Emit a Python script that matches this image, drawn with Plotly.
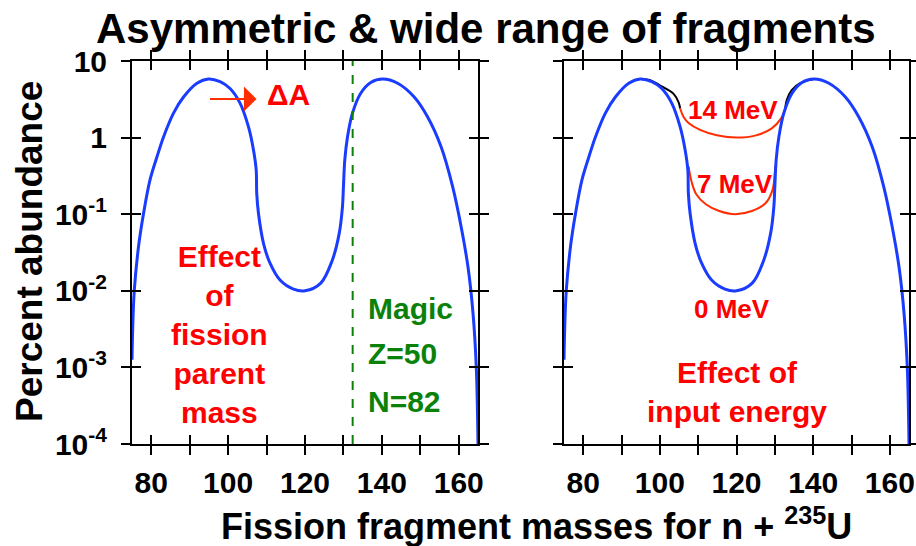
import plotly.graph_objects as go

# ---------------- data ----------------
mass_A = [75.0, 75.25, 75.6, 76.7, 78.0, 79.7, 81.5, 83.2, 85.8, 88.4, 91.9, 94.9,
          97.9, 100.5, 103.1, 105.3, 106.6, 107.3, 107.45, 107.9, 109.2, 110.9, 113.5, 117.0, 120.0,
          124.1, 127.1, 128.9, 129.75, 130.0, 130.35, 131.05, 132.35, 134.5, 137.1, 140.2,
          144.1, 148.4, 151.9, 155.4, 158.4, 160.6, 162.4, 163.7, 164.55, 165.0]
abund_0MeV = [1.26e-3, 4.17e-3, 1.02e-2, 3.8e-2, 0.102, 0.282, 0.562, 1.02, 2.09, 3.39, 5.13, 5.82,
              5.37, 4.37, 2.82, 1.38, 0.69, 0.38, 0.186, 0.102, 0.0417, 0.0229, 0.0138, 0.0105, 0.0100,
              0.0126, 0.0251, 0.0562, 0.126, 0.229, 0.513, 1.02, 2.09, 3.80, 5.25, 5.82,
              5.13, 3.39, 1.86, 0.759, 0.229, 0.0692, 0.0204, 5.13e-3, 1.02e-3, 1.0e-4]

black_left_A = [94.9, 97.5, 100.1, 103.6, 104.9, 105.3]
black_left_y = [5.82, 5.62, 4.79, 3.72, 2.88, 2.40]
black_right_A = [132.7, 133.1, 134.4, 136.6, 140.2]
black_right_y = [2.40, 3.09, 4.17, 5.13, 5.82]

mev14_A = [105.3, 106.2, 107.5, 110.5, 114.9, 120.0, 125.1, 129.2, 131.5, 132.7]
mev14_y = [2.40, 1.86, 1.55, 1.26, 1.07, 1.00, 1.07, 1.32, 1.74, 2.40]
mev7_A = [107.5, 108.3, 109.5, 112.0, 115.5, 119.7, 124.0, 127.5, 129.3, 130.1]
mev7_y = [0.42, 0.263, 0.182, 0.135, 0.110, 0.100, 0.110, 0.138, 0.20, 0.42]

magic_A = 132.4
x_major_ticks = [80, 100, 120, 140, 160]
x_minor_ticks = [90, 110, 130, 150]
y_ticks = [1e-4, 1e-3, 1e-2, 1e-1, 1, 10]
y_ticktext = ["10<sup>-4</sup>", "10<sup>-3</sup>", "10<sup>-2</sup>", "10<sup>-1</sup>", "1", "10"]

# ---------------- styling ----------------
W, H = 916, 546
FONT = "Liberation Sans, Arial, Helvetica, sans-serif"
BLUE = "rgb(25,60,255)"
RED = "rgb(255,0,0)"
REDLINE = "rgb(255,45,0)"
GREEN = "rgb(10,130,10)"

def px_x(p):
    return p / W

def px_y(p):
    return 1 - p / H

fig = go.Figure()
SPL = dict(shape="spline", smoothing=1.0)

# left panel
fig.add_trace(go.Scatter(x=mass_A, y=abund_0MeV, mode="lines", line=dict(color=BLUE, width=3, **SPL),
                         xaxis="x", yaxis="y", showlegend=False, hoverinfo="skip"))
# right panel
fig.add_trace(go.Scatter(x=black_left_A, y=black_left_y, mode="lines", line=dict(color="black", width=2, **SPL),
                         xaxis="x2", yaxis="y2", showlegend=False))
fig.add_trace(go.Scatter(x=black_right_A, y=black_right_y, mode="lines", line=dict(color="black", width=2, **SPL),
                         xaxis="x2", yaxis="y2", showlegend=False))
fig.add_trace(go.Scatter(x=mev14_A, y=mev14_y, mode="lines", line=dict(color=REDLINE, width=2, **SPL),
                         xaxis="x2", yaxis="y2", showlegend=False))
fig.add_trace(go.Scatter(x=mev7_A, y=mev7_y, mode="lines", line=dict(color=REDLINE, width=2, **SPL),
                         xaxis="x2", yaxis="y2", showlegend=False))
fig.add_trace(go.Scatter(x=mass_A, y=abund_0MeV, mode="lines", line=dict(color=BLUE, width=3, **SPL),
                         xaxis="x2", yaxis="y2", showlegend=False, hoverinfo="skip"))
# helper (invisible) traces so the inward-tick overlay axes are drawn
for xa, ya in (("x3", "y3"), ("x4", "y4")):
    fig.add_trace(go.Scatter(x=mass_A, y=abund_0MeV, mode="lines", line=dict(color="rgba(0,0,0,0)"),
                             xaxis=xa, yaxis=ya, showlegend=False, hoverinfo="skip"))

xdom1 = [px_x(132), px_x(478)]
xdom2 = [px_x(564), px_x(909)]
ydom = [px_y(444), px_y(61)]
tickfont = dict(family=FONT, size=30, color="black", weight="bold")

common_x = dict(range=[75, 165], tickmode="array", tickvals=x_major_ticks, showgrid=False, zeroline=False,
                ticks="outside", ticklen=9, tickwidth=2, tickcolor="black", mirror="ticks", automargin=False,
                minor=dict(tickmode="array", tickvals=x_minor_ticks, ticks="outside", ticklen=9, tickwidth=2,
                           tickcolor="black", showgrid=False),
                showline=True, linewidth=2, linecolor="black", tickfont=tickfont, ticklabelstandoff=2)
common_y = dict(type="log", range=[-4, 1], tickvals=y_ticks, ticktext=y_ticktext, showgrid=False, zeroline=False,
                ticks="outside", ticklen=9, tickwidth=2, tickcolor="black", mirror="ticks", automargin=False,
                showline=True, linewidth=2, linecolor="black", tickfont=tickfont, ticklabelstandoff=8)
inner_x = dict(range=[75, 165], tickmode="array", tickvals=x_major_ticks, showticklabels=False, showgrid=False,
               zeroline=False, ticks="inside", ticklen=9, tickwidth=2, tickcolor="black", mirror="ticks",
               minor=dict(tickmode="array", tickvals=x_minor_ticks, ticks="inside", ticklen=9, tickwidth=2,
                          tickcolor="black", showgrid=False),
               showline=False, automargin=False)
inner_y = dict(type="log", range=[-4, 1], tickvals=y_ticks, showticklabels=False, showgrid=False, zeroline=False,
               ticks="inside", ticklen=9, tickwidth=2, tickcolor="black", mirror="ticks", showline=False,
               automargin=False)

fig.update_layout(
    template="none",
    width=W, height=H,
    margin=dict(l=0, r=0, t=0, b=0, pad=0, autoexpand=False),
    paper_bgcolor="white", plot_bgcolor="rgba(0,0,0,0)",
    font=dict(family=FONT, color="black"),
    showlegend=False,
    xaxis=dict(domain=xdom1, anchor="y", **common_x),
    yaxis=dict(domain=ydom, anchor="x", **common_y),
    xaxis2=dict(domain=xdom2, anchor="y2", **common_x),
    yaxis2=dict(domain=ydom, anchor="x2", **{**common_y, "showticklabels": False}),
    xaxis3=dict(domain=xdom1, anchor="y3", overlaying="x", **inner_x),
    yaxis3=dict(domain=ydom, anchor="x3", overlaying="y", **inner_y),
    xaxis4=dict(domain=xdom2, anchor="y4", overlaying="x2", **inner_x),
    yaxis4=dict(domain=ydom, anchor="x4", overlaying="y2", **inner_y),
)

# dashed magic line
fig.add_shape(type="line", xref="x", yref="y domain", x0=magic_A, x1=magic_A, y0=0, y1=1,
              line=dict(color=GREEN, width=2, dash="dash"))

ann = []
# titles
ann.append(dict(text="<b>Asymmetric & wide range of fragments</b>", xref="paper", yref="paper",
                x=px_x(486), y=px_y(28), xanchor="center", yanchor="middle", showarrow=False,
                font=dict(family=FONT, size=42, color="black")))
ann.append(dict(text="<b>Fission fragment masses for n + <sup>235</sup>U</b>", xref="paper", yref="paper",
                x=px_x(536), y=px_y(524), xanchor="center", yanchor="middle", showarrow=False,
                font=dict(family=FONT, size=36, color="black")))
ann.append(dict(text="<b>Percent abundance</b>", xref="paper", yref="paper", textangle=-90,
                x=px_x(29), y=px_y(252), xanchor="center", yanchor="middle", showarrow=False,
                font=dict(family=FONT, size=37, color="black")))
# left panel annotations
ann.append(dict(text="", xref="x", yref="y", x=107.4, y=0.504, axref="x", ayref="y", ax=94.9, ay=0.504,
                showarrow=True, arrowhead=1, arrowsize=2.1, arrowwidth=2, arrowcolor=REDLINE))
ann.append(dict(text="<b>ΔA</b>", xref="x", yref="y", x=115.8, y=0.569, xanchor="center", yanchor="middle",
                showarrow=False, font=dict(family=FONT, size=30, color=RED)))
ann.append(dict(text="<b>Effect<br>of<br>fission<br>parent<br>mass</b>", xref="x", yref="y", x=97.7, y=-2.567,
                xanchor="center", yanchor="middle", showarrow=False, align="center",
                font=dict(family=FONT, size=30, color=RED)))
for t, ly in (("Magic", -2.225), ("Z=50", -2.812), ("N=82", -3.448)):
    ann.append(dict(text="<b>%s</b>" % t, xref="x", yref="y", x=135.8, y=ly, xanchor="left", yanchor="middle",
                    showarrow=False, font=dict(family=FONT, size=30, color=GREEN)))
# right panel annotations
for t, A, ly in (("14 MeV", 119.0, 0.356), ("7 MeV", 119.7, -0.6), ("0 MeV", 118.8, -2.24)):
    ann.append(dict(text="<b>%s</b>" % t, xref="x2", yref="y2", x=A, y=ly, xanchor="center", yanchor="middle",
                    showarrow=False, font=dict(family=FONT, size=26, color=RED)))
ann.append(dict(text="<b>Effect of<br>input energy</b>", xref="x2", yref="y2", x=120.0, y=-3.32,
                xanchor="center", yanchor="middle", showarrow=False, align="center",
                font=dict(family=FONT, size=30, color=RED)))
fig.update_layout(annotations=ann)

fig.write_html("out.html", config={"displayModeBar": False},
               post_script="document.body.style.margin='0px';document.body.style.padding='0px';"
                           "document.body.style.overflow='hidden';")
